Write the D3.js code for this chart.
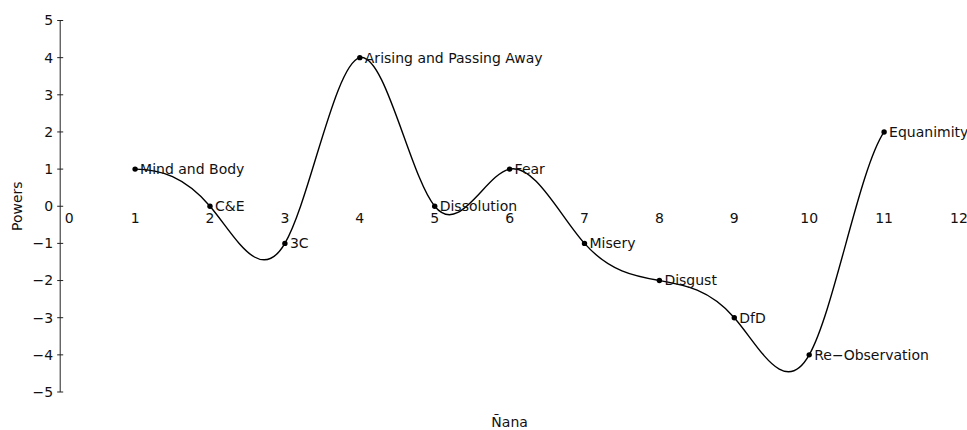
<!DOCTYPE html>
<html>
<head>
<meta charset="utf-8">
<script src="https://cdn.jsdelivr.net/npm/d3@7"></script>
<style>
  body { margin: 0; background: #fff; }
  svg text { font-family: "DejaVu Sans", sans-serif; fill: #111; }
</style>
</head>
<body>
<svg id="chart" width="967" height="430"></svg>
<script>
// stages of insight (nana) and their value
const stages = [1, 2, 3, 4, 5, 6, 7, 8, 9, 10, 11];
const powers = [1, 0, -1, 4, 0, 1, -1, -2, -3, -4, 2];
const names = ["Mind and Body", "C&E", "3C", "Arising and Passing Away", "Dissolution",
               "Fear", "Misery", "Disgust", "DfD", "Re\u2212Observation", "Equanimity"];
const xTicks = d3.range(0, 13);
const yTicks = d3.range(-5, 6);

const svg = d3.select('#chart');

const x = d3.scaleLinear().domain([0, 12]).range([60.2, 959]);
const y = d3.scaleLinear().domain([-5, 5]).range([392, 20.5]);

const points = stages.map((s, i) => ({ s: s, p: powers[i], name: names[i] }));

// cubic spline through the points: flat start, end slope half the last secant
function curveClamped(context) {
  let xs, ys;
  return {
    areaStart() {}, areaEnd() {},
    lineStart() { xs = []; ys = []; },
    point(px, py) { xs.push(+px); ys.push(+py); },
    lineEnd() {
      const n = xs.length;
      if (!n) return;
      context.moveTo(xs[0], ys[0]);
      if (n < 2) return;
      const h = [], d = [];
      for (let i = 0; i < n - 1; i++) {
        h[i] = xs[i + 1] - xs[i];
        d[i] = (ys[i + 1] - ys[i]) / h[i];
      }
      const m = new Array(n).fill(0);
      m[0] = 0;
      m[n - 1] = d[n - 2] / 2;
      const k = n - 2;
      if (k > 0) {
        const a = [], b = [], c = [], r = [];
        for (let i = 1; i < n - 1; i++) {
          a.push(h[i]); b.push(2 * (h[i - 1] + h[i])); c.push(h[i - 1]);
          r.push(3 * (h[i] * d[i - 1] + h[i - 1] * d[i]));
        }
        r[0] -= h[1] * m[0];
        r[k - 1] -= h[n - 3] * m[n - 1];
        for (let i = 1; i < k; i++) {
          const w = a[i] / b[i - 1];
          b[i] -= w * c[i - 1];
          r[i] -= w * r[i - 1];
        }
        m[k] = r[k - 1] / b[k - 1];
        for (let i = k - 2; i >= 0; i--) m[i + 1] = (r[i] - c[i] * m[i + 2]) / b[i];
      }
      for (let i = 0; i < n - 1; i++) {
        const t = h[i] / 3;
        context.bezierCurveTo(xs[i] + t, ys[i] + m[i] * t,
                              xs[i + 1] - t, ys[i + 1] - m[i + 1] * t,
                              xs[i + 1], ys[i + 1]);
      }
    }
  };
}

// y axis
const yAxis = svg.append('g').attr('transform', `translate(${x(0)},0)`);
yAxis.append('line')
  .attr('y1', y(5)).attr('y2', y(-5))
  .attr('stroke', '#222');
yAxis.selectAll('.tick')
  .data(yTicks)
  .join('line')
  .attr('x1', -3).attr('x2', 3)
  .attr('y1', d => y(d)).attr('y2', d => y(d))
  .attr('stroke', '#222');
yAxis.selectAll('text')
  .data(yTicks)
  .join('text')
  .attr('x', -7)
  .attr('y', d => y(d))
  .attr('dy', '0.35em')
  .attr('text-anchor', 'end')
  .attr('font-size', 14)
  .text(d => d3.format('d')(d));

// x tick labels sit just below the zero line, no axis line
svg.append('g').selectAll('text')
  .data(xTicks)
  .join('text')
  .attr('x', d => d === 0 ? x(d) + 9 : x(d))
  .attr('y', y(0) + 17)
  .attr('text-anchor', 'middle')
  .attr('font-size', 14)
  .text(d => d);

// axis titles
svg.append('text')
  .attr('transform', `translate(22,${y(0)}) rotate(-90)`)
  .attr('text-anchor', 'middle')
  .attr('font-size', 14)
  .text('Powers');
svg.append('text')
  .attr('x', (x(0) + x(12)) / 2)
  .attr('y', 427)
  .attr('text-anchor', 'middle')
  .attr('font-size', 14)
  .text('\u00d1ana');

const line = d3.line()
  .x(d => x(d.s))
  .y(d => y(d.p))
  .curve(curveClamped);

svg.append('path')
  .datum(points)
  .attr('d', line)
  .attr('fill', 'none')
  .attr('stroke', '#000')
  .attr('stroke-width', 1.4);

svg.append('g').selectAll('circle')
  .data(points)
  .join('circle')
  .attr('cx', d => x(d.s))
  .attr('cy', d => y(d.p))
  .attr('r', 2.7)
  .attr('fill', '#000');

svg.append('g').selectAll('text')
  .data(points)
  .join('text')
  .attr('x', d => x(d.s) + 5)
  .attr('y', d => y(d.p))
  .attr('dy', '0.35em')
  .attr('font-size', 14)
  .text(d => d.name);
</script>
</body>
</html>
